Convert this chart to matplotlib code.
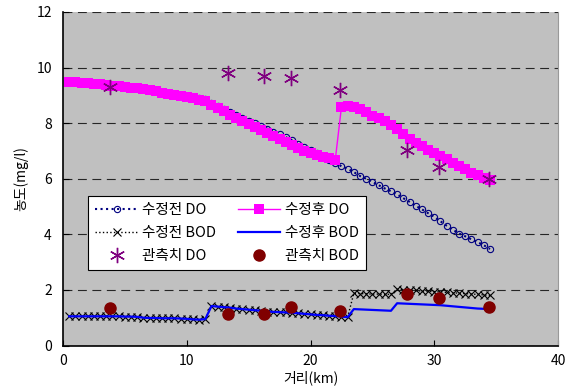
import numpy as np
import matplotlib
matplotlib.use('Agg')
import matplotlib.pyplot as plt

plt.rcParams['font.family'] = ['Noto Sans CJK KR', 'DejaVu Sans']

# 거리 (km), 0.5 km 간격
dist = [0.5, 1.0, 1.5, 2.0, 2.5, 3.0, 3.5, 4.0, 4.5, 5.0,
        5.5, 6.0, 6.5, 7.0, 7.5, 8.0, 8.5, 9.0, 9.5, 10.0,
        10.5, 11.0, 11.5, 12.0, 12.5, 13.0, 13.5, 14.0, 14.5, 15.0,
        15.5, 16.0, 16.5, 17.0, 17.5, 18.0, 18.5, 19.0, 19.5, 20.0,
        20.5, 21.0, 21.5, 22.0, 22.5, 23.0, 23.5, 24.0, 24.5, 25.0,
        25.5, 26.0, 26.5, 27.0, 27.5, 28.0, 28.5, 29.0, 29.5, 30.0,
        30.5, 31.0, 31.5, 32.0, 32.5, 33.0, 33.5, 34.0, 34.5]

do_before = [9.48, 9.47, 9.46, 9.44, 9.42, 9.40, 9.38, 9.35, 9.33, 9.31,
             9.28, 9.25, 9.22, 9.19, 9.15, 9.11, 9.07, 9.03, 9.00, 8.98,
             8.95, 8.92, 8.86, 8.74, 8.62, 8.50, 8.39, 8.28, 8.18, 8.08,
             7.99, 7.90, 7.80, 7.70, 7.60, 7.50, 7.38, 7.26, 7.14, 7.02,
             6.91, 6.80, 6.69, 6.58, 6.45, 6.36, 6.24, 6.10, 6.00, 5.89,
             5.77, 5.65, 5.55, 5.44, 5.30, 5.17, 5.03, 4.90, 4.76, 4.63,
             4.47, 4.31, 4.17, 4.03, 3.93, 3.82, 3.72, 3.61, 3.47]

do_after = [9.48, 9.47, 9.46, 9.44, 9.42, 9.40, 9.38, 9.35, 9.33, 9.31,
            9.28, 9.25, 9.22, 9.19, 9.15, 9.10, 9.05, 9.00, 8.96, 8.93,
            8.89, 8.85, 8.80, 8.66, 8.54, 8.42, 8.30, 8.18, 8.07, 7.97,
            7.86, 7.75, 7.64, 7.53, 7.42, 7.31, 7.20, 7.10, 7.00, 6.92,
            6.85, 6.80, 6.74, 6.68, 8.58, 8.62, 8.58, 8.50, 8.40, 8.26,
            8.17, 8.08, 7.95, 7.80, 7.62, 7.44, 7.30, 7.17, 7.05, 6.93,
            6.82, 6.70, 6.58, 6.46, 6.34, 6.22, 6.12, 6.03, 5.97]

bod_before = [1.05, 1.05, 1.05, 1.05, 1.05, 1.05, 1.05, 1.05, 1.05, 1.04,
              1.04, 1.03, 1.00, 0.99, 0.99, 0.98, 0.98, 0.98, 0.97, 0.96,
              0.94, 0.93, 0.95, 1.42, 1.40, 1.38, 1.36, 1.33, 1.31, 1.29,
              1.27, 1.25, 1.22, 1.21, 1.20, 1.19, 1.18, 1.16, 1.14, 1.12,
              1.10, 1.09, 1.07, 1.06, 1.04, 1.02, 1.88, 1.87, 1.86, 1.85,
              1.85, 1.84, 1.84, 2.02, 2.01, 2.00, 1.98, 1.96, 1.95, 1.94,
              1.93, 1.91, 1.90, 1.88, 1.87, 1.85, 1.84, 1.82, 1.80]

bod_after = [1.05, 1.05, 1.05, 1.05, 1.05, 1.05, 1.05, 1.05, 1.05, 1.04,
             1.04, 1.03, 1.00, 0.99, 0.99, 0.98, 0.98, 0.98, 0.97, 0.96,
             0.94, 0.93, 0.95, 1.42, 1.40, 1.38, 1.36, 1.33, 1.31, 1.29,
             1.27, 1.25, 1.22, 1.21, 1.20, 1.19, 1.18, 1.16, 1.14, 1.12,
             1.10, 1.09, 1.07, 1.06, 1.04, 1.02, 1.31, 1.30, 1.29, 1.28,
             1.27, 1.26, 1.25, 1.52, 1.51, 1.50, 1.49, 1.48, 1.47, 1.46,
             1.45, 1.43, 1.41, 1.39, 1.37, 1.35, 1.33, 1.32, 1.30]

# 관측치
obs_x = [3.8, 13.3, 16.25, 18.4, 22.4, 27.8, 30.4, 34.45]
obs_do = [9.29, 9.81, 9.69, 9.61, 9.19, 7.03, 6.43, 5.98]
obs_bod = [1.34, 1.12, 1.12, 1.40, 1.24, 1.84, 1.72, 1.40]

fig = plt.figure(figsize=(5.7, 3.92), dpi=100)
ax = fig.add_axes([0.1105, 0.1186, 0.8685, 0.8508])
ax.set_facecolor('#C0C0C0')

h1, = ax.plot(dist, do_before, color='#000080', linestyle=':', linewidth=1.5,
              marker='o', markersize=4.5, markerfacecolor='none',
              markeredgecolor='#000080', markeredgewidth=0.8, label='수정전 DO')
h4, = ax.plot(dist, do_after, color='#FF00FF', linestyle='-', linewidth=1,
              marker='s', markersize=6.5, markeredgewidth=0, label='수정후 DO')
h2, = ax.plot(dist, bod_before, color='black', linestyle=':', linewidth=1,
              marker='x', markersize=5.5, markeredgewidth=0.8, label='수정전 BOD')
h5, = ax.plot(dist, bod_after, color='#0000FF', linestyle='-', linewidth=1.6,
              label='수정후 BOD')
h3, = ax.plot(obs_x, obs_do, linestyle='none', marker=(6, 2, 0), markersize=11,
              color='#800080', markeredgewidth=1.0, label='관측치 DO')
h6, = ax.plot(obs_x, obs_bod, linestyle='none', marker='o', markersize=8,
              color='#800000', label='관측치 BOD')

ax.set_xlim(0, 40)
ax.set_ylim(0, 12)
ax.set_xticks([0, 10, 20, 30, 40])
ax.set_yticks([0, 2, 4, 6, 8, 10, 12])
ax.tick_params(direction='in', length=4, labelsize=10, colors='black')
ax.tick_params(axis='x', pad=6)
ax.tick_params(axis='y', pad=8)

ax.grid(axis='y', color='black', linestyle=(0, (8, 5)), linewidth=0.8, alpha=0.8)
ax.set_axisbelow(True)
ax.spines['top'].set_visible(False)
ax.spines['right'].set_color('#999999')
ax.spines['left'].set_linewidth(1.2)
ax.spines['bottom'].set_linewidth(1.2)

ax.set_xlabel('거리(km)', fontsize=10, labelpad=2)
ax.set_ylabel('농도(mg/l)', fontsize=10, labelpad=6)

leg = ax.legend(handles=[h1, h2, h3, h4, h5, h6], ncol=2, loc='upper left',
                bbox_to_anchor=(0.036, 0.47), fontsize=10.5, frameon=True,
                fancybox=False, edgecolor='black', framealpha=1,
                handlelength=2.9, handletextpad=0.3, columnspacing=1.5,
                labelspacing=0.6, borderpad=0.5)
leg.get_frame().set_linewidth(0.8)

fig.savefig('out.png', dpi=100)
